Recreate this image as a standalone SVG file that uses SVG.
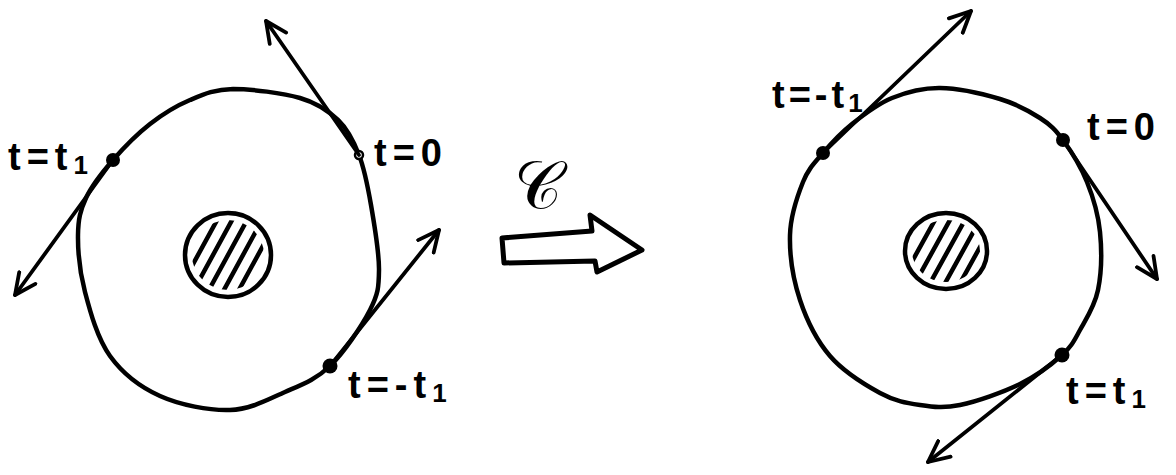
<svg xmlns="http://www.w3.org/2000/svg" width="1176" height="475" viewBox="0 0 1176 475">
<style>
.loop{fill:none;stroke:#000;stroke-width:4.5;stroke-linejoin:round;stroke-linecap:round}
.disk{fill:#fff;stroke:#000;stroke-width:4.5}
.hatch{stroke:#000;stroke-width:4.5;stroke-linecap:round}
.tan{fill:none;stroke:#000;stroke-width:3.8;stroke-linecap:round}
.lbl{font-family:"Liberation Sans",Arial,sans-serif;font-size:38px;font-weight:bold;fill:#000;letter-spacing:6px}
.sub{font-size:26px}
</style>
<defs>
<marker id="ah" viewBox="0 0 26 24" markerWidth="26" markerHeight="24" refX="23" refY="12" orient="auto" markerUnits="userSpaceOnUse">
<path d="M2,2 L23,12 L2,22" fill="none" stroke="#000" stroke-width="3.8" stroke-linecap="round" stroke-linejoin="round"/>
</marker>
<clipPath id="cl"><ellipse cx="228" cy="255" rx="36" ry="35"/></clipPath>
<clipPath id="cr"><ellipse cx="946" cy="251" rx="34" ry="31"/></clipPath>
</defs>

<g id="left-figure">
<path class="loop" d="M233,89 C251,89 283,93 300,98 C317.5,103 328,110.5 338,120 C348,129.5 353.5,141 359,155 C364.5,169 367.7,186 371,205 C374.3,224 379.2,252.5 379,270 C378.8,287.5 378.2,294 370,310 C361.8,326 344,352.3 330,366 C315.8,379.7 301.7,384.7 285,392 C268.3,399.3 250.8,409.3 230,410 C209.2,410.7 180,405 160,396 C140,387 122.5,373.3 110,356 C97.5,338.7 90.3,312.2 85,292 C79.7,271.8 77.8,250.7 78,235 C78.2,219.3 80.2,210.5 86,198 C91.8,185.5 102.3,172.3 113,160 C123.7,147.7 137.2,134 150,124 C162.8,114 176.2,105.8 190,100 C203.8,94.2 214.7,89.3 233,89 Z"/>
<g id="left-core">
<ellipse class="disk" cx="228" cy="255" rx="43" ry="42"/>
<g clip-path="url(#cl)">
<line class="hatch" x1="168" y1="310" x2="228" y2="200"/>
<line class="hatch" x1="183" y1="310" x2="243" y2="200"/>
<line class="hatch" x1="198" y1="310" x2="258" y2="200"/>
<line class="hatch" x1="213" y1="310" x2="273" y2="200"/>
<line class="hatch" x1="228" y1="310" x2="288" y2="200"/>
</g>
</g>
<circle cx="113" cy="160" r="7" fill="#000"/>
<circle cx="330" cy="366" r="7.5" fill="#000"/>
<circle cx="359" cy="155" r="4" fill="#fff" stroke="#000" stroke-width="2.5"/>
<text class="lbl" x="8" y="170">t=t<tspan class="sub" dy="4">1</tspan></text>
<text class="lbl" x="374" y="166">t=0</text>
<text class="lbl" x="348" y="398">t=-t<tspan class="sub" dy="4">1</tspan></text>
</g>

<g id="transform">
<text x="538" y="208" text-anchor="middle" style="font-family:'DejaVu Serif','Noto Sans',serif;font-size:66px">𝒞</text>
<path d="M502,238 L592,231 L590,215 L642,250 L597,272 L595,261 L504,263 Z" fill="#fff" stroke="#000" stroke-width="5" stroke-linejoin="round"/>
</g>

<g id="right-figure">
<path class="loop" d="M940,88 C958,88.2 983.3,94 1000,99 C1016.7,104 1029.5,111.2 1040,118 C1050.5,124.8 1055.2,129.3 1063,140 C1070.8,150.7 1080.8,166.7 1087,182 C1093.2,197.3 1098.2,214 1100,232 C1101.8,250 1101.3,273.7 1098,290 C1094.7,306.3 1086,319.2 1080,330 C1074,340.8 1072,346 1062,355 C1052,364 1037,375.7 1020,384 C1003,392.3 976.7,401.5 960,405 C943.3,408.5 933.3,407 920,405 C906.7,403 895,401.2 880,393 C865,384.8 843.3,371.5 830,356 C816.7,340.5 806.7,320.2 800,300 C793.3,279.8 789.5,254.7 790,235 C790.5,215.3 797.5,195.7 803,182 C808.5,168.3 814.8,162.7 823,153 C831.2,143.3 840.5,133.2 852,124 C863.5,114.8 877.3,104 892,98 C906.7,92 922,87.8 940,88 Z"/>
<g id="right-core">
<ellipse class="disk" cx="946" cy="251" rx="41" ry="38"/>
<g clip-path="url(#cr)">
<line class="hatch" x1="888" y1="305" x2="946" y2="200"/>
<line class="hatch" x1="903" y1="305" x2="961" y2="200"/>
<line class="hatch" x1="918" y1="305" x2="976" y2="200"/>
<line class="hatch" x1="933" y1="305" x2="991" y2="200"/>
<line class="hatch" x1="948" y1="305" x2="1006" y2="200"/>
</g>
</g>
<circle cx="823" cy="153" r="7" fill="#000"/>
<circle cx="1063" cy="140" r="7" fill="#000"/>
<circle cx="1062" cy="355" r="7.5" fill="#000"/>
<text class="lbl" x="772" y="108" style="letter-spacing:4px">t=-t<tspan class="sub" dy="4">1</tspan></text>
<text class="lbl" x="1087" y="140">t=0</text>
<text class="lbl" x="1066" y="404">t=t<tspan class="sub" dy="4">1</tspan></text>
</g>

<g id="connectors">
<line class="tan" x1="359" y1="155" x2="266" y2="21" marker-end="url(#ah)"/>
<line class="tan" x1="113" y1="160" x2="15" y2="295" marker-end="url(#ah)"/>
<line class="tan" x1="330" y1="366" x2="439" y2="230" marker-end="url(#ah)"/>
<line class="tan" x1="823" y1="153" x2="971" y2="11" marker-end="url(#ah)"/>
<line class="tan" x1="1063" y1="140" x2="1157" y2="279" marker-end="url(#ah)"/>
<line class="tan" x1="1062" y1="355" x2="928" y2="462" marker-end="url(#ah)"/>
</g>
</svg>
